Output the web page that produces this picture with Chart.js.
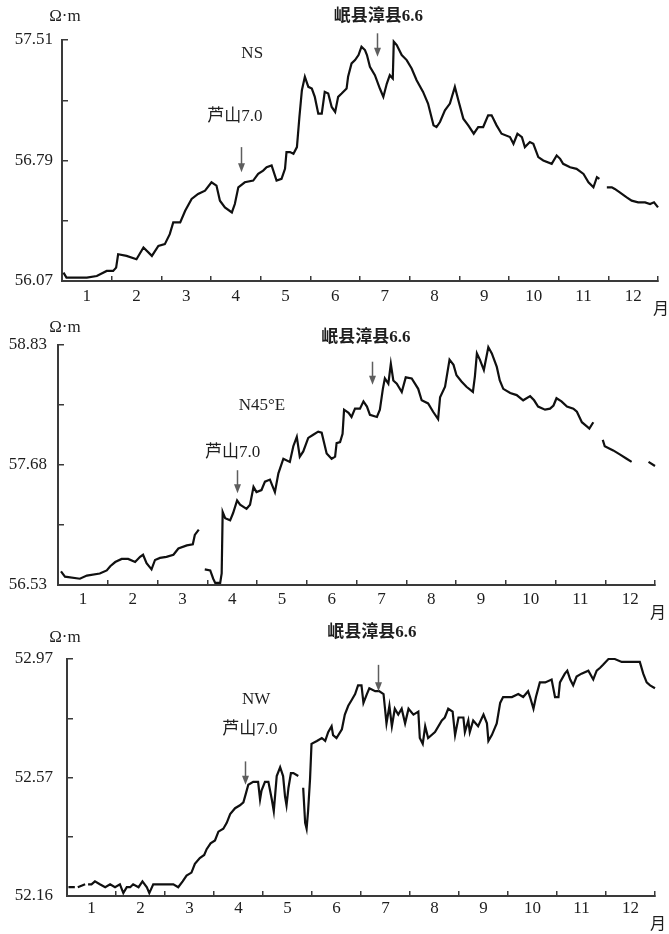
<!DOCTYPE html>
<html>
<head>
<meta charset="utf-8">
<title>视电阻率日均值</title>
<script src="https://cdn.jsdelivr.net/npm/chart.js@4/dist/chart.umd.min.js"></script>
<style>
  html, body { margin: 0; padding: 0; background: #ffffff; }
  #wrap { position: relative; width: 669px; height: 934px; overflow: hidden; }
  canvas { position: absolute; left: 0; }
</style>
</head>
<body>
<div id="wrap">
  <canvas id="ns" width="669" height="325" style="top:0px"></canvas>
  <canvas id="ne" width="669" height="325" style="top:305px"></canvas>
  <canvas id="nw" width="669" height="319" style="top:615px"></canvas>
</div>
<script>
// ---- month axis ----
const MONTH_EDGES = [0, 1, 2, 3, 4, 5, 6, 7, 8, 9, 10, 11, 12];
const MONTH_LABELS = ['1', '2', '3', '4', '5', '6', '7', '8', '9', '10', '11', '12'];

// ---- NS component (Ω·m) ----
const nsMonth = [0.03,0.09,0.28,0.50,0.70,0.90,1.03,1.09,1.13,1.30,
  1.50,1.64,1.81,1.94,2.07,2.17,2.24,2.38,2.48,2.61,
  2.74,2.88,3.01,3.11,3.18,3.28,3.42,3.48,3.55,3.68,
  3.85,3.95,4.05,4.12,4.22,4.32,4.42,4.49,4.52,4.59,
  4.66,4.73,4.78,4.83,4.89,4.96,5.03,5.09,5.16,5.23,
  5.29,5.36,5.43,5.50,5.56,5.63,5.73,5.76,5.83,5.90,
  5.97,6.03,6.10,6.14,6.20,6.30,6.40,6.47,6.54,6.60,
  6.66,6.68,6.74,6.84,6.94,7.04,7.14,7.27,7.37,7.48,
  7.54,7.61,7.71,7.81,7.91,7.98,8.08,8.18,8.29,8.38,
  8.48,8.58,8.65,8.75,8.85,9.02,9.09,9.17,9.26,9.32,
  9.42,9.49,9.59,9.69,9.86,9.96,10.03,10.09,10.23,10.36,
  10.50,10.60,10.70,10.77,10.82,10.90,10.97,11.07,11.13,11.23,
  11.37,11.47,11.60,11.74,11.84,11.92,12.00];
const nsValue = [56.12,56.09,56.09,56.09,56.10,56.13,56.13,56.15,56.23,56.22,
  56.20,56.27,56.22,56.28,56.29,56.35,56.42,56.42,56.49,56.56,
  56.59,56.61,56.66,56.64,56.55,56.51,56.48,56.53,56.63,56.66,
  56.67,56.71,56.73,56.75,56.76,56.67,56.68,56.74,56.84,56.84,
  56.83,56.87,57.05,57.21,57.29,57.23,57.22,57.17,57.07,57.07,
  57.20,57.19,57.11,57.08,57.17,57.19,57.22,57.29,57.37,57.39,
  57.42,57.47,57.45,57.42,57.35,57.30,57.22,57.17,57.25,57.30,
  57.28,57.50,57.48,57.42,57.39,57.34,57.27,57.20,57.13,57.00,
  56.99,57.02,57.09,57.13,57.23,57.15,57.04,57.00,56.95,56.99,
  56.99,57.06,57.06,57.00,56.95,56.93,56.89,56.95,56.93,56.87,
  56.90,56.89,56.81,56.79,56.77,56.82,56.80,56.77,56.75,56.74,
  56.71,56.66,56.63,56.69,56.68,null,56.63,56.63,56.62,56.60,
  56.57,56.55,56.54,56.54,56.53,56.54,56.51];
const nsTicks = [56.07, 56.43, 56.79, 57.15, 57.51];
const nsTickLabels = ['56.07', '', '56.79', '', '57.51'];

// ---- N45°E component (Ω·m) ----
const neMonth = [0.06,0.14,0.44,0.58,0.84,0.98,1.05,1.15,1.28,1.41,
  1.55,1.65,1.71,1.78,1.88,1.95,2.05,2.18,2.32,2.42,
  2.59,2.71,2.75,2.83,2.89,2.95,3.06,3.12,3.16,3.26,
  3.29,3.31,3.36,3.46,3.52,3.60,3.66,3.79,3.86,3.93,
  3.99,4.09,4.16,4.26,4.36,4.43,4.53,4.66,4.73,4.80,
  4.86,4.93,5.03,5.13,5.23,5.30,5.40,5.50,5.57,5.60,
  5.67,5.72,5.75,5.84,5.90,5.97,6.07,6.14,6.21,6.27,
  6.41,6.47,6.53,6.57,6.64,6.69,6.74,6.81,6.91,6.99,
  7.11,7.24,7.31,7.44,7.54,7.64,7.68,7.78,7.87,7.95,
  8.01,8.11,8.21,8.34,8.38,8.42,8.48,8.56,8.65,8.72,
  8.82,8.88,8.95,9.09,9.22,9.35,9.49,9.57,9.65,9.79,
  9.89,9.96,10.02,10.12,10.23,10.36,10.43,10.53,10.63,10.68,
  10.76,10.85,10.95,10.99,11.16,11.30,11.43,11.53,11.70,11.87,
  12.00];
const neValue = [56.66,56.61,56.59,56.62,56.64,56.67,56.71,56.75,56.78,56.78,
  56.75,56.80,56.82,56.74,56.68,56.77,56.79,56.80,56.82,56.88,
  56.91,56.92,57.01,57.06,null,56.68,56.67,56.59,56.55,56.55,
  56.64,57.23,57.17,57.15,57.22,57.34,57.30,57.26,57.30,57.47,
  57.42,57.44,57.52,57.54,57.42,57.60,57.74,57.71,57.86,57.95,
  57.76,57.81,57.94,57.97,58.00,57.99,57.79,57.74,57.76,57.89,
  57.90,57.98,58.21,58.18,58.14,58.22,58.22,58.29,58.24,58.16,
  58.14,58.21,58.41,58.51,58.46,58.65,58.49,58.46,58.38,58.52,
  58.51,58.41,58.30,58.27,58.19,58.12,58.33,58.43,58.69,58.64,
  58.54,58.48,58.43,58.38,58.53,58.75,58.69,58.59,58.81,58.75,
  58.62,58.49,58.41,58.37,58.35,58.30,58.34,58.30,58.24,58.21,
  58.22,58.25,58.32,58.29,58.24,58.22,58.19,58.09,58.05,58.03,
  58.09,null,57.92,57.86,57.82,57.78,57.74,57.71,null,57.71,
  57.67];
const neTicks = [56.53, 57.105, 57.68, 58.255, 58.83];
const neTickLabels = ['56.53', '', '57.68', '', '58.83'];

// ---- NW component (Ω·m) ----
const nwMonth = [0.03,0.16,0.19,0.22,0.37,0.40,0.43,0.50,0.57,0.67,
  0.78,0.88,0.98,1.08,1.15,1.22,1.29,1.35,1.46,1.54,
  1.63,1.68,1.76,1.86,2.03,2.17,2.27,2.36,2.44,2.54,
  2.61,2.71,2.80,2.85,2.93,3.02,3.09,3.19,3.26,3.33,
  3.43,3.53,3.60,3.65,3.70,3.80,3.90,3.94,3.97,4.04,
  4.11,4.18,4.22,4.28,4.35,4.41,4.45,4.48,4.52,4.57,
  4.62,4.72,4.77,4.82,4.86,4.89,4.92,4.96,4.99,5.10,
  5.20,5.27,5.33,5.40,5.43,5.50,5.61,5.67,5.74,5.81,
  5.88,5.94,6.01,6.05,6.12,6.17,6.29,6.37,6.46,6.49,
  6.52,6.58,6.63,6.69,6.76,6.83,6.90,6.97,7.07,7.17,
  7.20,7.26,7.31,7.37,7.51,7.65,7.71,7.78,7.87,7.92,
  7.99,8.09,8.12,8.19,8.22,8.29,8.39,8.50,8.57,8.60,
  8.67,8.77,8.84,8.90,9.08,9.21,9.31,9.41,9.45,9.52,
  9.57,9.65,9.76,9.89,9.96,10.03,10.06,10.16,10.21,10.27,
  10.33,10.40,10.50,10.64,10.74,10.81,10.88,10.94,11.05,11.18,
  11.32,11.49,11.69,11.76,11.83,11.90,12.00];
const nwValue = [52.19,52.19,null,52.19,52.20,null,52.20,52.20,52.21,52.20,
  52.19,52.20,52.19,52.20,52.17,52.19,52.19,52.20,52.19,52.21,
  52.19,52.17,52.20,52.20,52.20,52.20,52.19,52.21,52.23,52.24,
  52.27,52.29,52.30,52.32,52.34,52.35,52.38,52.39,52.41,52.44,
  52.46,52.47,52.48,52.51,52.54,52.55,52.55,52.49,52.52,52.55,
  52.55,52.49,52.45,52.57,52.60,52.57,52.50,52.47,52.53,52.58,
  52.58,52.57,null,52.53,52.41,52.39,52.45,52.56,52.68,52.69,
  52.70,52.69,52.72,52.74,52.71,52.70,52.73,52.78,52.81,52.83,
  52.85,52.88,52.88,52.82,52.85,52.87,52.86,52.86,52.85,52.80,
  52.75,52.81,52.74,52.80,52.78,52.80,52.75,52.80,52.78,52.79,
  52.70,52.68,52.74,52.70,52.72,52.76,52.77,52.80,52.79,52.71,
  52.77,52.77,52.72,52.76,52.72,52.76,52.74,52.78,52.75,52.69,
  52.71,52.75,52.82,52.84,52.84,52.85,52.84,52.86,52.84,52.80,
  52.84,52.89,52.89,52.90,52.84,52.84,52.89,52.92,52.93,52.90,
  52.88,52.91,52.92,52.93,52.90,52.93,52.94,52.95,52.97,52.97,
  52.96,52.96,52.96,52.92,52.89,52.88,52.87];
const nwTicks = [52.16, 52.3625, 52.565, 52.7675, 52.97];
const nwTickLabels = ['52.16', '', '52.57', '', '52.97'];

// ---- styling ----
const SERIF = '"Liberation Serif", "Noto Sans CJK SC", serif';
const TEXT = '#1e1e1e';
const AXIS = '#3a3a3a';
const LINE = '#101010';
const ARROW = '#5e5e5e';

// Per-panel layout: plot-area box within its canvas, label gaps, notes and arrows
const panels = [
  {
    id: 'ns', height: 325, left: 62, right: 658, top: 40, bottom: 281,
    months: nsMonth, values: nsValue, ticks: nsTicks, tickLabels: nsTickLabels,
    yPad: 15, xPad: 10, unit: { dx: 3, dy: -23 },
    notes: [
      { text: 'NS', month: 3.83, value: 57.43, bold: false },
      { text: '芦山7.0', month: 3.48, value: 57.05, bold: false },
      { text: '岷县漳县6.6', month: 6.37, value: 57.65, bold: true }
    ],
    arrows: [
      { month: 3.60, from: 56.87, to: 56.72 },
      { month: 6.34, from: 57.55, to: 57.41 }
    ]
  },
  {
    id: 'ne', height: 325, left: 58, right: 655, top: 40, bottom: 280,
    months: neMonth, values: neValue, ticks: neTicks, tickLabels: neTickLabels,
    yPad: 17, xPad: 9, unit: { dx: 7, dy: -17 },
    notes: [
      { text: 'N45°E', month: 4.10, value: 58.25, bold: false },
      { text: '芦山7.0', month: 3.51, value: 57.80, bold: false },
      { text: '岷县漳县6.6', month: 6.19, value: 58.90, bold: true }
    ],
    arrows: [
      { month: 3.60, from: 57.63, to: 57.41 },
      { month: 6.31, from: 58.67, to: 58.45 }
    ]
  },
  {
    id: 'nw', height: 319, left: 67, right: 655, top: 44, bottom: 281,
    months: nwMonth, values: nwValue, ticks: nwTicks, tickLabels: nwTickLabels,
    yPad: 20, xPad: 7, unit: { dx: -2, dy: -21 },
    notes: [
      { text: 'NW', month: 3.86, value: 52.83, bold: false },
      { text: '芦山7.0', month: 3.73, value: 52.73, bold: false },
      { text: '岷县漳县6.6', month: 6.22, value: 53.06, bold: true }
    ],
    arrows: [
      { month: 3.63, from: 52.62, to: 52.54 },
      { month: 6.35, from: 52.95, to: 52.86 }
    ]
  }
];

// Draws the unit label, the month label, the station notes and the event arrows
const decor = {
  id: 'decor',
  afterDraw(chart, args, opts) {
    const { ctx, chartArea } = chart;
    const xs = chart.scales.x, ys = chart.scales.y;
    ctx.save();
    ctx.fillStyle = TEXT;
    ctx.textAlign = 'center';
    ctx.textBaseline = 'middle';
    ctx.font = '17px ' + SERIF;
    ctx.fillText('Ω·m', chartArea.left + opts.unit.dx, chartArea.top + opts.unit.dy);
    ctx.font = '16px "Noto Sans CJK SC", sans-serif';
    ctx.fillText('月', chartArea.right + 3, chartArea.bottom + 27);

    for (const n of opts.notes) {
      ctx.font = (n.bold ? 'bold ' : '') + '17px ' + SERIF;
      ctx.fillText(n.text, xs.getPixelForValue(n.month), ys.getPixelForValue(n.value));
    }

    ctx.strokeStyle = ARROW;
    ctx.fillStyle = ARROW;
    ctx.lineWidth = 1.5;
    for (const a of opts.arrows) {
      const x = Math.round(xs.getPixelForValue(a.month)) + 0.5;
      const y0 = ys.getPixelForValue(a.from);
      const y1 = ys.getPixelForValue(a.to);
      const head = 9, half = 3.5;
      ctx.beginPath();
      ctx.moveTo(x, y0);
      ctx.lineTo(x, y1 - head + 1);
      ctx.stroke();
      ctx.beginPath();
      ctx.moveTo(x - half, y1 - head);
      ctx.lineTo(x + half, y1 - head);
      ctx.lineTo(x, y1);
      ctx.closePath();
      ctx.fill();
    }
    ctx.restore();
  }
};

function makePanel(p) {
  const canvas = document.getElementById(p.id);
  const points = p.months.map((m, i) => ({ x: m, y: p.values[i] }));
  const plotWidth = p.right - p.left;
  return new Chart(canvas, {
    type: 'line',
    data: {
      datasets: [{
        data: points,
        borderColor: LINE,
        borderWidth: 2.2,
        borderJoinStyle: 'miter',
        pointRadius: 0,
        tension: 0,
        spanGaps: false,
        fill: false,
        clip: false
      }]
    },
    options: {
      responsive: false,
      animation: false,
      devicePixelRatio: 1,
      layout: { padding: { left: 0, top: p.top, right: 669 - p.right, bottom: 0 } },
      plugins: {
        legend: { display: false },
        tooltip: { enabled: false },
        decor: { notes: p.notes, arrows: p.arrows, unit: p.unit }
      },
      scales: {
        x: {
          type: 'linear',
          min: 0,
          max: 12,
          afterBuildTicks: s => { s.ticks = MONTH_EDGES.map(v => ({ value: v })); },
          afterFit: s => { s.height = p.height - p.bottom; },
          grid: { display: true, drawOnChartArea: false, drawTicks: true, tickLength: -5, color: AXIS, lineWidth: 1.5 },
          border: { display: true, color: AXIS, width: 2 },
          ticks: {
            autoSkip: false,
            maxRotation: 0,
            minRotation: 0,
            labelOffset: plotWidth / 24,
            padding: p.xPad,
            color: TEXT,
            font: { family: SERIF, size: 17 },
            callback: (v, i) => (i < MONTH_LABELS.length ? MONTH_LABELS[i] : '')
          }
        },
        y: {
          type: 'linear',
          min: p.ticks[0],
          max: p.ticks[p.ticks.length - 1],
          afterBuildTicks: s => { s.ticks = p.ticks.map(v => ({ value: v })); },
          afterFit: s => { s.width = p.left; },
          grid: { display: true, drawOnChartArea: false, drawTicks: true, tickLength: -6, color: AXIS, lineWidth: 1.5 },
          border: { display: true, color: AXIS, width: 2 },
          ticks: {
            autoSkip: false,
            padding: p.yPad,
            color: TEXT,
            font: { family: SERIF, size: 17 },
            callback: (v, i) => p.tickLabels[i]
          }
        }
      }
    },
    plugins: [decor]
  });
}

panels.forEach(makePanel);
</script>
</body>
</html>
